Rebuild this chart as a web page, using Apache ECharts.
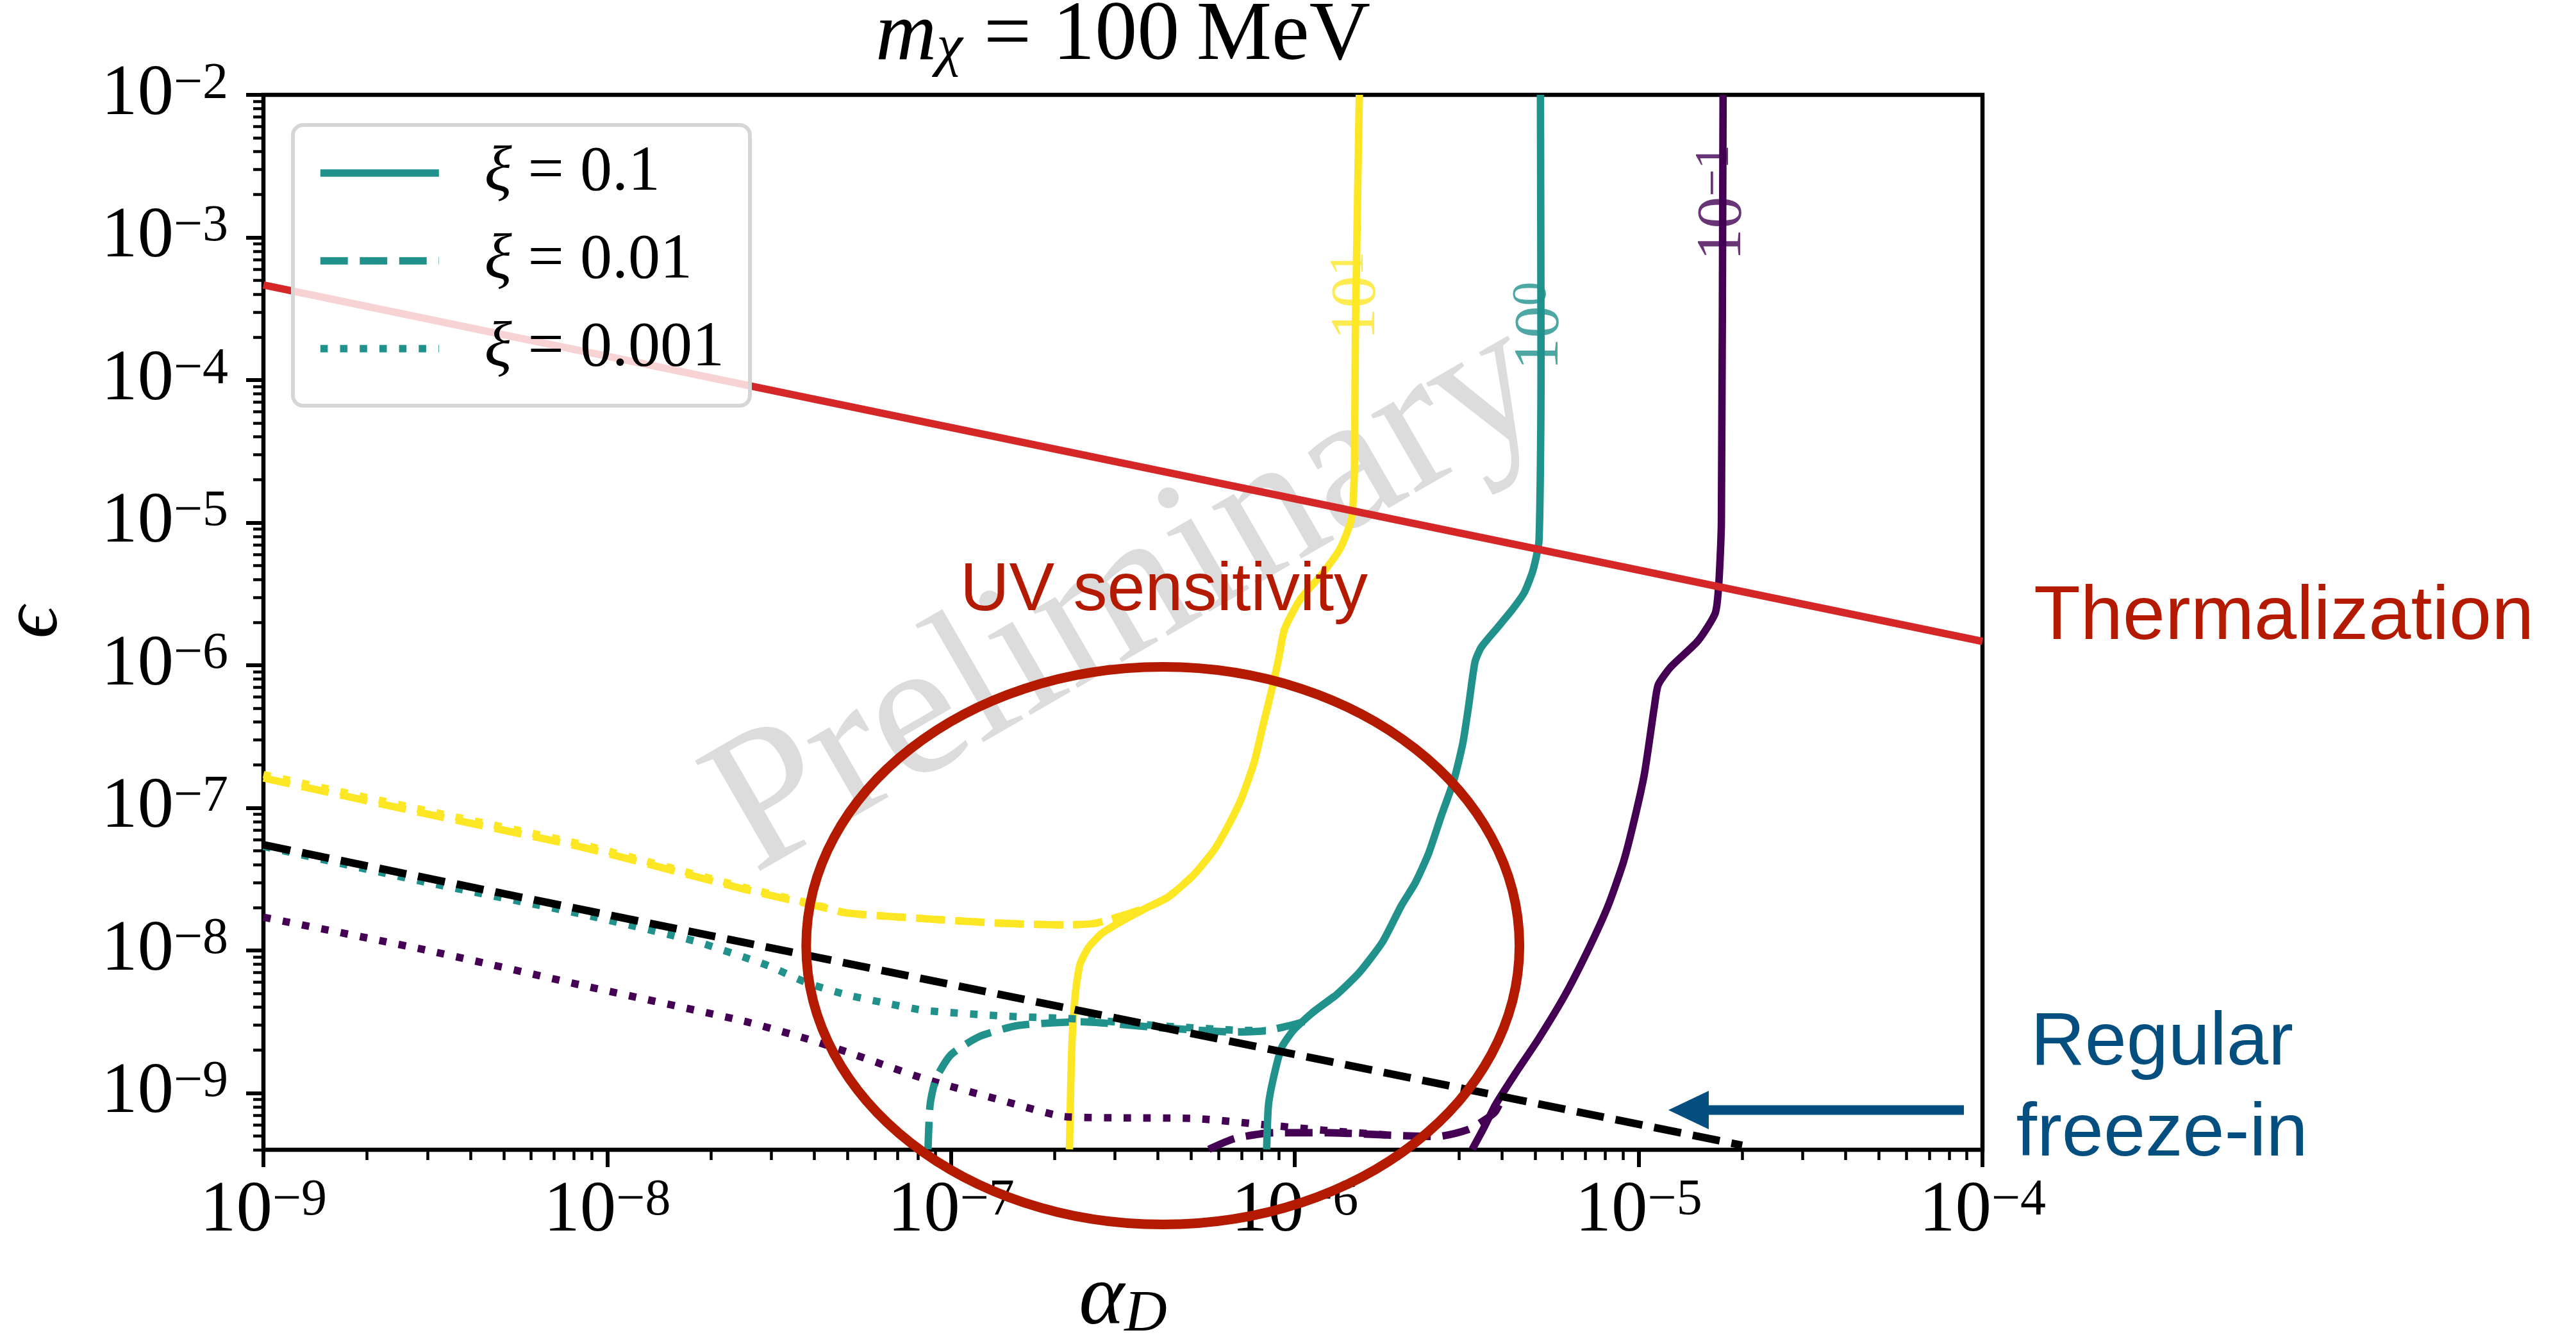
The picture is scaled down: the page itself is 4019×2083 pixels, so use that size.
<!DOCTYPE html>
<html><head><meta charset="utf-8">
<script src="https://cdn.jsdelivr.net/npm/echarts@6/dist/echarts.min.js"></script>
<style>html,body{margin:0;padding:0;background:#fff}#chart{width:4019px;height:2083px}</style>
</head><body><div id="chart"></div>
<script>
// ---------- axis definitions ----------
const xRange = [1e-9, 1e-4];
const yRange = [4e-10, 1e-2];
const xTickExponents = [-9, -8, -7, -6, -5, -4];
const yTickExponents = [-9, -8, -7, -6, -5, -4, -3, -2];

// ---------- data: [alpha_D, epsilon] ----------
const thermalization = [[1e-9, 4.64e-4], [1e-4, 1.47e-6]];
const regularFreezeIn = [[1e-9, 5.5e-8], [2e-5, 4.3e-10]];

// level 10^1 (yellow)
const yellowSolid = [[1.54e-6,1e-2],[1.50e-6,2.2e-4],[1.49e-6,2.43e-5],[1.46e-6,1.06e-5],[1.355e-6,6.59e-6],[1.20e-6,4.37e-6],[1.035e-6,2.88e-6],[9.33e-7,1.79e-6],[8.97e-7,1.11e-6],[8.59e-7,6.92e-7],[8.09e-7,3.84e-7],[7.62e-7,2.10e-7],[7.00e-7,1.17e-7],[6.44e-7,7.73e-8],[5.82e-7,5.06e-8],[5.05e-7,3.34e-8],[4.29e-7,2.38e-8],[3.72e-7,2.0e-8],[3.16e-7,1.62e-8],[2.75e-7,1.32e-8],[2.51e-7,1.05e-8],[2.37e-7,7.94e-9],[2.30e-7,5.01e-9],[2.25e-7,2.39e-9],[2.23e-7,1.17e-9],[2.21e-7,4.03e-10]];
const yellowDashed = [[1e-9,1.62e-7],[2.95e-9,9.12e-8],[8.59e-9,5.25e-8],[2.50e-8,2.69e-8],[4.11e-8,2.04e-8],[4.98e-8,1.83e-8],[8.36e-8,1.67e-8],[1.41e-7,1.55e-8],[2.13e-7,1.51e-8],[2.63e-7,1.55e-8],[3.23e-7,1.79e-8],[3.72e-7,2.0e-8],[4.29e-7,2.38e-8],[5.05e-7,3.34e-8]];
const yellowDotted = [[1e-9,1.71e-7],[2.95e-9,9.60e-8],[8.59e-9,5.48e-8],[2.50e-8,2.77e-8],[4.11e-8,2.07e-8],[4.98e-8,1.83e-8],[8.36e-8,1.67e-8],[1.41e-7,1.55e-8],[2.13e-7,1.51e-8],[2.63e-7,1.55e-8],[3.23e-7,1.79e-8],[3.72e-7,2.0e-8]];

// level 10^0 (teal)
const tealSolid = [[5.18e-6,1e-2],[5.20e-6,1.15e-4],[5.13e-6,7.46e-6],[4.93e-6,4.65e-6],[4.65e-6,3.24e-6],[4.27e-6,2.42e-6],[3.85e-6,1.79e-6],[3.48e-6,1.33e-6],[3.34e-6,1.05e-6],[3.20e-6,5.13e-7],[3.08e-6,2.84e-7],[2.90e-6,1.56e-7],[2.66e-6,8.65e-8],[2.45e-6,4.80e-8],[2.24e-6,2.98e-8],[2.04e-6,2.06e-8],[1.80e-6,1.15e-8],[1.54e-6,7.00e-9],[1.32e-6,4.88e-9],[1.13e-6,3.69e-9],[9.91e-7,2.76e-9],[9.16e-7,2.09e-9],[8.71e-7,1.35e-9],[8.38e-7,8.24e-10],[8.28e-7,4.03e-10]];
const tealDashed = [[8.57e-8,4.03e-10],[8.69e-8,8.24e-10],[9.04e-8,1.26e-9],[1.00e-7,1.86e-9],[1.21e-7,2.49e-9],[1.56e-7,2.97e-9],[2.37e-7,3.16e-9],[3.99e-7,2.88e-9],[6.70e-7,2.68e-9],[8.24e-7,2.74e-9],[1.07e-6,3.19e-9],[1.13e-6,3.69e-9],[1.32e-6,4.88e-9]];
const tealDotted = [[1e-9,5.37e-8],[2.95e-9,3.02e-8],[8.59e-9,1.78e-8],[1.78e-8,1.17e-8],[2.50e-8,8.97e-9],[2.96e-8,7.76e-9],[3.85e-8,5.87e-9],[4.98e-8,4.88e-9],[6.46e-8,4.27e-9],[8.36e-8,3.80e-9],[1.41e-7,3.47e-9],[2.37e-7,3.30e-9],[3.99e-7,2.97e-9],[6.70e-7,2.76e-9],[8.24e-7,2.74e-9]];

// level 10^-1 (purple)
const purpleSolid = [[1.76e-5,1e-2],[1.74e-5,1e-5],[1.71e-5,3.70e-6],[1.67e-5,2.32e-6],[1.49e-5,1.49e-6],[1.24e-5,9.73e-7],[1.14e-5,7.29e-7],[1.11e-5,5.07e-7],[1.04e-5,1.75e-7],[9.75e-6,8.57e-8],[9.04e-6,4.20e-8],[8.15e-6,2.06e-8],[7.13e-6,1.01e-8],[6.11e-6,4.88e-9],[5.11e-6,2.39e-9],[4.36e-6,1.35e-9],[3.83e-6,8.24e-10],[3.55e-6,5.73e-10],[3.28e-6,4.03e-10]];
const purpleDashed = [[5.62e-7,4.03e-10],[6.70e-7,4.81e-10],[8.71e-7,5.27e-10],[1.25e-6,5.27e-10],[1.90e-6,5.06e-10],[2.59e-6,4.95e-10],[3.20e-6,5.56e-10],[3.55e-6,6.43e-10],[3.83e-6,7.41e-10],[4.07e-6,1.0e-9]];
const purpleDotted = [[1e-9,1.71e-8],[2.95e-9,1.01e-8],[8.59e-9,5.64e-9],[2.50e-8,3.19e-9],[3.83e-8,2.39e-9],[4.98e-8,1.94e-9],[8.36e-8,1.26e-9],[1.41e-7,8.85e-10],[2.13e-7,6.84e-10],[3.07e-7,6.70e-10],[5.16e-7,6.62e-10],[8.28e-7,5.97e-10],[1.25e-6,5.45e-10],[1.90e-6,5.06e-10]];

// contour level labels: exponent text and position on the curve
const levelNames = ['1', '0', '−1'];
const levelLabelX = [1.52e-6, 5.18e-6, 1.76e-5];
const levelLabelY = [3.9e-4, 2.4e-4, 1.75e-3];

// annotations (data coordinates)
const uvEllipseCenter = [4.13e-7, 1.08e-8];
const uvEllipseRight = [4.50e-6, 1.08e-8];
const uvEllipseTop = [4.13e-7, 9.73e-7];
const arrowTail = [8.83e-5, 7.59e-10];
const arrowTip = [1.22e-5, 7.59e-10];

// ---------- styles ----------
const SERIF = "'Liberation Serif','DejaVu Serif',serif";
const SANS = "'Liberation Sans',Arial,sans-serif";
const PURPLE = '#440154', TEAL = '#21918c', YELLOW = '#fde725';
const THERM_RED = '#d62728', UV_RED = '#b31a00', BLUE = '#054f80';
const LW = 11.6;
const DASHED = [42.9, 18.6];
const DOTTED = [11.6, 19.1];

function line(name, data, color, type, width) {
  return {
    type: 'line', name: name, data: data, symbol: 'none', showSymbol: false,
    smooth: 0.2, silent: true, animation: false, clip: true,
    lineStyle: { color: color, width: width, type: type, cap: 'butt', join: 'round' },
    itemStyle: { color: color }
  };
}

const expLabel = function (v) {
  const e = Math.round(Math.log10(v));
  return '{m|10}{s|' + (e < 0 ? '−' : '') + Math.abs(e) + '}';
};

const xMajor = xTickExponents.map(e => Number('1e' + e));
const yMajor = yTickExponents.map(e => Number('1e' + e));
function minorTicks(range) {
  const out = [];
  const lo = Math.floor(Math.log10(range[0])), hi = Math.ceil(Math.log10(range[1]));
  for (let e = lo; e < hi; e++) {
    for (let k = 2; k <= 9; k++) {
      const v = Number(k + 'e' + e);
      if (v >= range[0] && v <= range[1]) out.push(v);
    }
  }
  return out;
}
const xMinor = minorTicks(xRange);
const yMinor = minorTicks(yRange);

const tickRich = {
  m: { fontFamily: SERIF, fontSize: 113, lineHeight: 113, color: '#000' },
  s: { fontFamily: SERIF, fontSize: 80, lineHeight: 54, verticalAlign: 'top', color: '#000' }
};

const chart = echarts.init(document.getElementById('chart'), null, { renderer: 'canvas', width: 4019, height: 2083 });

const series = [
  line('y-0.1', yellowSolid, YELLOW, 'solid', LW),
  line('y-0.01', yellowDashed, YELLOW, DASHED, LW),
  line('y-0.001', yellowDotted, YELLOW, DOTTED, LW),
  line('p-0.1', purpleSolid, PURPLE, 'solid', LW),
  line('p-0.01', purpleDashed, PURPLE, DASHED, LW),
  line('p-0.001', purpleDotted, PURPLE, DOTTED, LW),
  line('ξ = 0.1', tealSolid, TEAL, 'solid', LW),
  line('ξ = 0.01', tealDashed, TEAL, DASHED, LW),
  line('ξ = 0.001', tealDotted, TEAL, DOTTED, LW),
  Object.assign(line('Thermalization', thermalization, THERM_RED, 'solid', LW), { smooth: false }),
  Object.assign(line('Regular freeze-in', regularFreezeIn, '#000', DASHED, 12), { smooth: false }),
  {
    type: 'scatter', name: 'levels', symbolSize: 0, silent: true, z: 4,
    data: levelNames.map((n, i) => ({
      name: n, value: [levelLabelX[i], levelLabelY[i]],
      label: { color: [YELLOW, TEAL, PURPLE][i] }
    })),
    label: {
      show: true, position: 'inside', rotate: 90, textBorderWidth: 0,
      fontFamily: SERIF, fontSize: 100, lineHeight: 100,
      formatter: p => '{m|10}{s|' + p.name + '}',
      rich: {
        m: { fontFamily: SERIF, fontSize: 100, lineHeight: 100 },
        s: { fontFamily: SERIF, fontSize: 76, lineHeight: 50, verticalAlign: 'top' }
      }
    }
  },
  {
    type: 'custom', name: 'annotations', silent: true, clip: false, z: 8,
    data: [uvEllipseCenter],
    encode: { x: 0, y: 1 },
    renderItem: function (params, api) {
      const c = api.coord(uvEllipseCenter), r = api.coord(uvEllipseRight), t = api.coord(uvEllipseTop);
      const tail = api.coord(arrowTail), tip = api.coord(arrowTip);
      const head = 63, half = 30;
      return {
        type: 'group', children: [
          { type: 'ellipse', shape: { cx: c[0], cy: c[1], rx: r[0] - c[0], ry: c[1] - t[1] },
            style: { fill: 'none', stroke: UV_RED, lineWidth: 15 } },
          { type: 'line', shape: { x1: tail[0], y1: tail[1], x2: tip[0] + head - 2, y2: tip[1] },
            style: { stroke: BLUE, lineWidth: 15 } },
          { type: 'polygon', shape: { points: [[tip[0], tip[1]], [tip[0] + head, tip[1] - half], [tip[0] + head, tip[1] + half]] },
            style: { fill: BLUE } }
        ]
      };
    }
  }
];

chart.setOption({
  animation: false,
  backgroundColor: '#fff',
  grid: { left: 411, top: 148, width: 2682, height: 1646, show: true, borderColor: '#000', borderWidth: 6.5,
          backgroundColor: 'transparent', containLabel: false, outerBoundsMode: 'none' },
  xAxis: [
    { type: 'log', logBase: 10, min: xRange[0], max: xRange[1], position: 'bottom',
      axisLine: { show: false, onZero: false },
      axisTick: { show: true, length: 27, lineStyle: { color: '#000', width: 6 }, customValues: xMajor },
      axisLabel: { show: true, margin: 40, formatter: expLabel, rich: tickRich, customValues: xMajor },
      splitLine: { show: false }, minorTick: { show: false } },
    { type: 'log', logBase: 10, min: xRange[0], max: xRange[1], position: 'bottom',
      axisLine: { show: false, onZero: false },
      axisTick: { show: true, length: 16, lineStyle: { color: '#000', width: 4.5 }, customValues: xMinor },
      axisLabel: { show: false }, splitLine: { show: false } }
  ],
  yAxis: [
    { type: 'log', logBase: 10, min: yRange[0], max: yRange[1], position: 'left',
      axisLine: { show: false, onZero: false },
      axisTick: { show: true, length: 27, lineStyle: { color: '#000', width: 6 }, customValues: yMajor },
      axisLabel: { show: true, margin: 55, formatter: expLabel, rich: tickRich, customValues: yMajor },
      splitLine: { show: false }, minorTick: { show: false } },
    { type: 'log', logBase: 10, min: yRange[0], max: yRange[1], position: 'left',
      axisLine: { show: false, onZero: false },
      axisTick: { show: true, length: 16, lineStyle: { color: '#000', width: 4.5 }, customValues: yMinor },
      axisLabel: { show: false }, splitLine: { show: false } }
  ],
  legend: {
    data: ['ξ = 0.1', 'ξ = 0.01', 'ξ = 0.001'],
    orient: 'vertical', left: 457, top: 195,
    itemWidth: 185, itemHeight: 20, itemGap: 37,
    padding: [25, 40, 39, 37],
    backgroundColor: 'rgba(255,255,255,0.8)', borderColor: '#d6d6d6', borderWidth: 6, borderRadius: 16,
    selectedMode: false,
    itemStyle: { opacity: 0, borderWidth: 0 },
    lineStyle: { width: LW },
    formatter: name => '{xi|ξ}{n|' + name.replace('ξ', '') + '}',
    textStyle: {
      fontFamily: SERIF, fontSize: 100, lineHeight: 100, color: '#000', padding: [0, 0, 0, 66],
      rich: {
        xi: { fontFamily: SERIF, fontStyle: 'italic', fontSize: 100, lineHeight: 100, color: '#000' },
        n: { fontFamily: SERIF, fontSize: 100, lineHeight: 100, color: '#000' }
      }
    }
  },
  graphic: [
    { type: 'text', x: 1760, y: 935, rotation: Math.PI / 6, z: 3, silent: true,
      style: { text: 'Preliminary', font: '305px ' + SERIF, fill: 'rgba(128,128,128,0.28)', align: 'center', verticalAlign: 'middle' } },
    { type: 'text', x: 1752, y: 57, z: 6, silent: true,
      style: { text: '{i|m}{sub|χ}{n| = 100\u2009MeV}', align: 'center', verticalAlign: 'middle',
        rich: {
          i: { fontFamily: SERIF, fontStyle: 'italic', fontSize: 132, lineHeight: 132, fill: '#000' },
          sub: { fontFamily: SERIF, fontStyle: 'italic', fontSize: 92, lineHeight: 64, verticalAlign: 'bottom', fill: '#000' },
          n: { fontFamily: SERIF, fontSize: 132, lineHeight: 132, fill: '#000' }
        } } },
    { type: 'text', x: 1752, y: 2030, z: 6, silent: true,
      style: { text: '{a|α}{d|D}', align: 'center', verticalAlign: 'middle',
        rich: {
          a: { fontFamily: SERIF, fontStyle: 'italic', fontSize: 135, lineHeight: 135, fill: '#000' },
          d: { fontFamily: SERIF, fontStyle: 'italic', fontSize: 92, lineHeight: 66, verticalAlign: 'bottom', fill: '#000' }
        } } },
    { type: 'text', x: 55, y: 971, rotation: Math.PI / 2, z: 6, silent: true,
      style: { text: 'ϵ', font: 'italic 125px ' + SERIF, fill: '#000', align: 'center', verticalAlign: 'middle' } },
    { type: 'text', x: 1816, y: 923, z: 9, silent: true,
      style: { text: 'UV sensitivity', font: '106px ' + SANS, fill: UV_RED, align: 'center', verticalAlign: 'middle' } },
    { type: 'text', x: 3173, y: 964, z: 9, silent: true,
      style: { text: 'Thermalization', font: '119px ' + SANS, fill: UV_RED, align: 'left', verticalAlign: 'middle' } },
    { type: 'text', x: 3373, y: 1700, z: 9, silent: true,
      style: { text: 'Regular\nfreeze-in', font: '117px ' + SANS, lineHeight: 142, fill: BLUE, align: 'center', verticalAlign: 'middle' } }
  ],
  series: series
});
</script>
</body></html>
